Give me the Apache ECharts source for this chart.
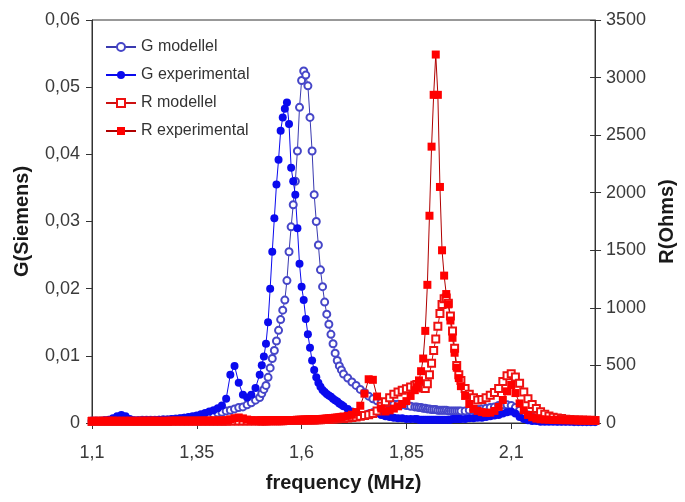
<!DOCTYPE html>
<html>
<head>
<meta charset="utf-8">
<script src="https://cdn.jsdelivr.net/npm/echarts@6/dist/echarts.min.js"></script>
<style>
html,body{margin:0;padding:0;background:#fff;}
#chart{width:685px;height:502px;}
</style>
</head>
<body>
<div id="chart"></div>
<script>
// Frequency (MHz)
var freq = [
  1.10,1.11,1.12,1.13,1.14,1.15,1.16,1.17,1.18,1.19,
  1.20,1.21,1.22,1.23,1.24,1.25,1.26,1.27,1.28,1.29,
  1.30,1.31,1.32,1.33,1.34,1.35,1.36,1.37,1.38,1.39,
  1.40,1.41,1.42,1.43,1.44,1.45,1.46,1.47,1.48,1.49,
  1.50,1.505,1.51,1.515,1.52,1.525,1.53,1.535,1.54,1.545,
  1.55,1.555,1.56,1.565,1.57,1.575,1.58,1.585,1.59,1.595,
  1.60,1.605,1.61,1.615,1.62,1.625,1.63,1.635,1.64,1.645,
  1.65,1.655,1.66,1.665,1.67,1.675,1.68,1.685,1.69,1.695,
  1.70,
  1.71,1.72,1.73,1.74,1.75,1.76,1.77,1.78,1.79,1.80,1.81,1.82,1.83,1.84,1.85,1.86,1.87,
  1.875,1.88,1.885,1.89,1.895,1.90,1.905,1.91,1.915,1.92,1.925,1.93,1.935,1.94,1.945,1.95,1.955,1.96,1.965,1.97,1.975,1.98,
  1.99,2.00,2.01,2.02,2.03,2.04,2.05,2.06,2.07,2.08,2.09,2.10,2.11,2.12,2.13,2.14,2.15,2.16,2.17,2.18,2.19,2.20,
  2.21,2.22,2.23,2.24,2.25,2.26,2.27,2.28,2.29,2.30
];

// G modellel (Siemens)
var gModel = [
  0.0003,0.0003,0.0003,0.0003,0.0003,0.0003,0.0003,0.0003,0.0003,0.0003,
  0.0003,0.0003,0.0004,0.0004,0.0004,0.0004,0.0004,0.0005,0.0005,0.0005,
  0.0006,0.0006,0.0007,0.0007,0.0008,0.0009,0.0010,0.0011,0.0012,0.0013,
  0.0015,0.0016,0.0018,0.0019,0.0021,0.0023,0.0024,0.0027,0.0030,0.0034,
  0.0038,0.0044,0.0050,0.0056,0.0068,0.0082,0.0096,0.0108,0.0122,0.0138,
  0.0154,0.0168,0.0183,0.0212,0.0255,0.0292,0.0325,0.0360,0.0405,0.0470,
  0.0510,0.0524,0.0518,0.0502,0.0455,0.0405,0.0340,0.0300,0.0265,0.0228,
  0.0203,0.0180,0.0162,0.0147,0.0132,0.0118,0.0104,0.0093,0.0085,0.0079,
  0.0073,
  0.0067,0.0061,0.0056,0.0050,0.0045,0.0040,0.0036,0.0033,0.0031,0.0030,0.0029,0.0028,0.0028,0.0027,0.0026,0.0025,0.0024,
  0.0024,0.0023,0.0023,0.0022,0.0022,0.0021,0.0021,0.0020,0.0020,0.0020,0.0019,0.0019,0.0019,0.0019,0.0019,0.0018,0.0018,0.0018,0.0018,0.0018,0.0018,0.0018,
  0.0018,0.0019,0.0019,0.0020,0.0021,0.0022,0.0023,0.0024,0.0026,0.0027,0.0027,0.0026,0.0023,0.0019,0.0015,0.0012,0.0009,0.0007,0.0006,0.0005,0.0004,0.0004,
  0.0003,0.0003,0.0003,0.0003,0.0002,0.0002,0.0002,0.0002,0.0002,0.0002
];

// G experimental (Siemens)
var gExp = [
  0.0003,0.0003,0.0003,0.0004,0.0005,0.0007,0.0010,0.0012,0.0010,0.0006,
  0.0004,0.0004,0.0004,0.0004,0.0004,0.0004,0.0005,0.0005,0.0005,0.0006,
  0.0006,0.0007,0.0008,0.0009,0.0010,0.0011,0.0013,0.0015,0.0017,0.0019,
  0.0022,0.0026,0.0036,0.0072,0.0085,0.0060,0.0042,0.0038,0.0042,0.0052,
  0.0072,0.0086,0.0099,0.0118,0.0150,0.0200,0.0255,0.0305,0.0355,0.0392,
  0.0435,0.0455,0.0468,0.0477,0.0445,0.0380,0.0360,0.0340,0.0290,0.0237,
  0.0203,0.0183,0.0155,0.0132,0.0112,0.0093,0.0079,0.0068,0.0060,0.0054,
  0.0049,0.0046,0.0043,0.0041,0.0039,0.0036,0.0034,0.0032,0.0029,0.0027,
  0.0025,
  0.0021,0.0017,0.0014,0.0012,0.0012,0.0014,0.0016,0.0015,0.0012,0.0010,0.0009,0.0008,0.0007,0.0007,0.0006,0.0006,0.0006,
  0.0006,0.0005,0.0005,0.0005,0.0005,0.0005,0.0005,0.0005,0.0005,0.0005,0.0005,0.0005,0.0005,0.0005,0.0005,0.0005,0.0005,0.0006,0.0006,0.0006,0.0006,0.0006,
  0.0006,0.0007,0.0007,0.0008,0.0008,0.0009,0.0010,0.0011,0.0012,0.0014,0.0016,0.0017,0.0014,0.0009,0.0006,0.0004,0.0003,0.0003,0.0002,0.0002,0.0002,0.0002,
  0.0002,0.0002,0.0002,0.0002,0.0002,0.0002,0.0002,0.0002,0.0002,0.0002
];

// R modellel (Ohms)
var rModel = [
  12,12,12,12,13,13,13,13,13,13,
  13,13,14,14,14,14,14,14,14,15,
  15,15,15,15,15,15,16,16,16,16,
  16,16,16,17,17,17,17,17,18,18,
  18,18,18,18,19,19,19,19,20,20,
  20,20,21,21,21,22,22,22,23,23,
  24,24,25,25,26,26,27,28,28,29,
  30,31,32,33,34,35,36,37,38,39,
  40,
  44,48,53,58,65,72,82,105,145,185,220,250,270,285,298,312,328,
  335,330,320,305,300,340,420,520,630,730,840,950,1030,1080,1085,1040,930,800,650,500,420,370,
  300,250,220,200,205,220,240,265,300,360,410,428,400,345,270,210,160,125,97,75,60,50,
  44,38,32,30,28,26,25,24,23,22
];

// R experimental (Ohms)
var rExp = [
  20,20,20,21,21,21,20,20,20,20,
  20,20,21,21,21,21,20,20,20,20,
  20,20,20,20,20,20,21,21,21,22,
  22,22,25,32,42,48,40,30,24,22,
  22,22,22,22,22,22,22,23,23,23,
  23,24,24,24,25,25,25,26,26,27,
  27,28,28,29,30,31,32,33,34,35,
  36,37,38,40,42,44,46,48,50,53,
  56,
  62,72,95,150,255,380,375,230,125,100,110,125,145,165,190,235,285,
  310,370,450,560,800,1200,1800,2400,2850,3200,2850,2050,1500,1280,1120,1030,890,740,610,480,390,320,
  235,165,122,105,95,88,90,105,140,200,275,330,260,170,110,70,50,38,32,30,28,26,
  25,25,24,24,24,23,23,23,22,22
];

var xTicks = [1.1, 1.35, 1.6, 1.85, 2.1];

function pairs(ys){ return freq.map(function(f,i){ return [f, ys[i]]; }); }
function comma(v){ return String(v).replace('.', ','); }

var FONT = 'Liberation Sans, Arial, sans-serif';
var chart = echarts.init(document.getElementById('chart'), null, {renderer:'canvas'});
chart.setOption({
  animation: false,
  backgroundColor: '#ffffff',
  textStyle: {fontFamily: FONT},
  grid: {left: 92, top: 20, width: 505, height: 403, show: true, borderColor: '#333', borderWidth: 1},
  legend: {
    orient: 'vertical', left: 100, top: 34, itemGap: 12,
    itemWidth: 30, itemHeight: 10,
    textStyle: {fontFamily: FONT, fontSize: 16, color: '#333'},
    data: ['G modellel','G experimental','R modellel','R experimental']
  },
  xAxis: {
    type: 'value', min: 1.1, max: 2.3,
    name: 'frequency (MHz)', nameLocation: 'middle', nameGap: 50,
    nameTextStyle: {fontFamily: FONT, fontSize: 20, fontWeight: 'bold', color: '#1a1a1a'},
    axisLine: {lineStyle: {color: '#333', width: 1}},
    axisTick: {show: true, length: 6, customValues: xTicks, lineStyle: {color: '#333'}},
    axisLabel: {customValues: xTicks, formatter: comma, fontSize: 18, color: '#3a3a3a', margin: 21, fontFamily: FONT},
    splitLine: {show: false}
  },
  yAxis: [{
    type: 'value', min: 0, max: 0.06, interval: 0.01, position: 'left',
    name: 'G(Siemens)', nameLocation: 'middle', nameGap: 60, nameRotate: 90,
    nameTextStyle: {fontFamily: FONT, fontSize: 20, fontWeight: 'bold', color: '#1a1a1a'},
    axisLine: {show: true, lineStyle: {color: '#333', width: 1}},
    axisTick: {show: true, length: 6, lineStyle: {color: '#333'}},
    axisLabel: {fontSize: 18, color: '#3a3a3a', margin: 12, fontFamily: FONT,
      formatter: function(v){ return v === 0 ? '0' : v.toFixed(2).replace('.', ','); }},
    splitLine: {show: false}
  },{
    type: 'value', min: 0, max: 3500, interval: 500, position: 'right',
    name: 'R(Ohms)', nameLocation: 'middle', nameGap: 61, nameRotate: 90,
    nameTextStyle: {fontFamily: FONT, fontSize: 20, fontWeight: 'bold', color: '#1a1a1a'},
    axisLine: {show: true, lineStyle: {color: '#333', width: 1}},
    axisTick: {show: true, length: 6, lineStyle: {color: '#333'}},
    axisLabel: {fontSize: 18, color: '#3a3a3a', margin: 11, fontFamily: FONT,
      formatter: function(v){ return String(v); }},
    splitLine: {show: false}
  },{
    type: 'value', min: 0, max: 3500, interval: 500, position: 'right',
    axisLine: {show: false},
    axisTick: {show: true, inside: true, length: 5, lineStyle: {color: '#333'}},
    axisLabel: {show: false},
    splitLine: {show: false}
  }],
  series: [{
    name: 'G modellel', type: 'line', yAxisIndex: 0, data: pairs(gModel),
    symbol: 'emptyCircle', symbolSize: 7,
    itemStyle: {color: '#4646c8', borderWidth: 1},
    lineStyle: {color: '#3a3ab0', width: 1}
  },{
    name: 'G experimental', type: 'line', yAxisIndex: 0, data: pairs(gExp),
    symbol: 'circle', symbolSize: 8,
    itemStyle: {color: '#0a0aee'},
    lineStyle: {color: '#0a0aee', width: 1}
  },{
    name: 'R modellel', type: 'line', yAxisIndex: 1, data: pairs(rModel),
    symbol: 'emptyRect', symbolSize: 7,
    itemStyle: {color: '#ee1111', borderWidth: 1},
    lineStyle: {color: '#cc1111', width: 1}
  },{
    name: 'R experimental', type: 'line', yAxisIndex: 1, data: pairs(rExp),
    symbol: 'rect', symbolSize: 8,
    itemStyle: {color: '#ff0000'},
    lineStyle: {color: '#b00000', width: 1}
  }]
});
</script>
</body>
</html>
